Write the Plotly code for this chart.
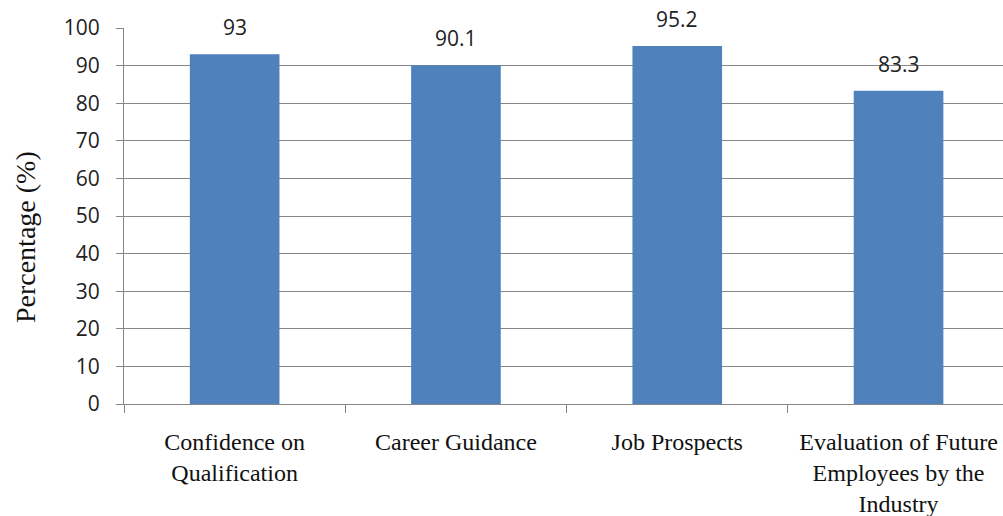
import plotly.graph_objects as go

categories = ["Confidence on<br>Qualification", "Career Guidance", "Job Prospects",
              "Evaluation of Future<br>Employees by the<br>Industry"]
values = [93, 90.1, 95.2, 83.3]
y_ticks = list(range(0, 101, 10))

GRID = "#868686"
BAR = "#4F81BD"
SANS = "Open Sans"
SERIF = "Liberation Serif"

fig = go.Figure()
fig.add_trace(go.Bar(x=categories, y=values, marker=dict(color=BAR, line=dict(width=0)),
                     width=0.405, hoverinfo="skip"))

for c, v in zip(categories, values):
    fig.add_annotation(x=c, y=v, text=f"{v:g}", showarrow=False, yshift=27,
                       font=dict(family=SANS, size=21, color="#222222"))

fig.add_annotation(xref="paper", yref="paper", x=-0.1126, y=0.444, text="Percentage (%)",
                   textangle=-90, showarrow=False, xanchor="center", yanchor="middle",
                   font=dict(family=SERIF, size=28, color="#111111"))

fig.update_layout(
    width=1003, height=516,
    margin=dict(l=124, r=0, t=28, b=112),
    paper_bgcolor="white", plot_bgcolor="white",
    showlegend=False,
    xaxis=dict(range=[-0.5, 3.472], tickson="boundaries", ticks="outside", ticklen=8,
               tickcolor=GRID, showline=True, linecolor=GRID, linewidth=1, showgrid=False,
               tickfont=dict(family=SERIF, size=24, color="#111111"),
               ticklabelstandoff=16, fixedrange=True),
    yaxis=dict(range=[0, 100], tickvals=y_ticks, ticks="outside", ticklen=7,
               tickcolor=GRID, showline=True, linecolor=GRID, linewidth=1,
               showgrid=True, gridcolor=GRID, gridwidth=1, zeroline=False,
               tickfont=dict(family=SANS, size=21, color="#222222"),
               ticklabelstandoff=12, fixedrange=True),
)

fig.write_html("out.html")
